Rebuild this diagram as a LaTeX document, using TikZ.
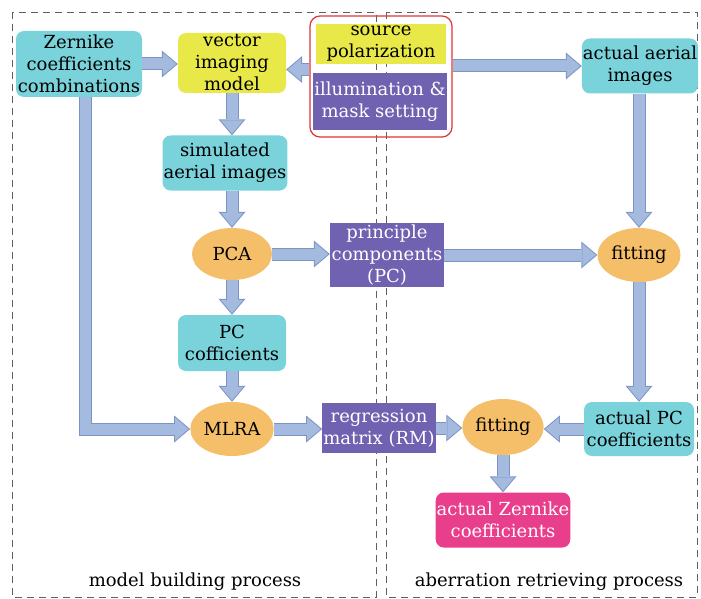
\documentclass[tikz,border=0pt]{standalone}
\usepackage{fontspec}
\setmainfont{DejaVu Serif}
\usetikzlibrary{arrows.meta, positioning, shapes.geometric}
\definecolor{mycyan}{RGB}{122,210,218}
\definecolor{myyellow}{RGB}{232,232,72}
\definecolor{mypurple}{RGB}{112,98,176}
\definecolor{myorange}{RGB}{245,190,105}
\definecolor{mypink}{RGB}{232,62,140}
\definecolor{myarrow}{RGB}{164,186,222}
\definecolor{myarrowline}{RGB}{124,148,196}
\definecolor{myred}{RGB}{222,52,52}
\definecolor{mydash}{RGB}{96,96,96}
\newcommand{\flowpath}[1]{\draw[flowout] #1; \draw[flowin] #1;}

\begin{document}
\begin{tikzpicture}[x=1pt,y=-1pt,
    every node/.style={font=\fontsize{18}{22}\selectfont,align=center,inner sep=1pt},
    cbox/.style={fill=mycyan,rounded corners=8pt},
    ybox/.style={fill=myyellow},
    pbox/.style={fill=mypurple,text=white},
    oval/.style={ellipse,fill=myorange},
    flowout/.style={line width=13pt,draw=myarrowline,-{Triangle[length=16pt,width=27pt,line width=0pt]}},
    flowin/.style={line width=11pt,draw=myarrow,shorten >=1.55pt,-{Triangle[length=13.45pt,width=22.7pt,line width=0pt]}},
    dashbox/.style={draw=mydash,line width=0.9pt,dash pattern=on 7pt off 5pt}]
    \useasboundingbox (0,0) rectangle (701,599);
    \draw[dashbox] (12,12) rectangle (376,597);
    \draw[dashbox] (386,12) rectangle (697,597);
    % model building side
    \node[cbox,minimum width=126pt,minimum height=66pt] (zern) at (79,64) {Zernike\\coefficients\\combinations};
    \node[cbox,fill=myyellow,minimum width=108pt,minimum height=60pt] (vim) at (232,63) {vector\\imaging\\model};
    \node[cbox,minimum width=122pt,minimum height=55pt] (simaer) at (225,163) {simulated\\aerial images};
    \node[oval,minimum width=80pt,minimum height=52pt] (pca) at (232,254) {PCA};
    \node[cbox,minimum width=108pt,minimum height=56pt] (pccof) at (232,343) {PC\\cofficients};
    \node[oval,minimum width=80pt,minimum height=54pt] (mlra) at (232,429) {MLRA};
    % shared settings
    \node[ybox,minimum width=130pt,minimum height=40pt] (srcpol) at (381,44) {source\\polarization};
    \node[pbox,minimum width=134pt,minimum height=57pt] (illum) at (380,102) {illumination \&\\mask setting};
    \node[draw=myred,line width=1.2pt,rounded corners=10pt,minimum width=142pt,minimum height=121pt] (frame) at (381,76.5) {};
    \node[pbox,minimum width=114pt,minimum height=64pt] (pcomp) at (387,255) {principle\\components\\(PC)};
    \node[pbox,minimum width=112pt,minimum height=50pt] (regm) at (379,428) {regression\\matrix (RM)};
    % aberration retrieving side
    \node[cbox,minimum width=114pt,minimum height=55pt] (actaer) at (640,66) {actual aerial\\images};
    \node[oval,minimum width=83pt,minimum height=54pt] (fita) at (639,255) {fitting};
    \node[cbox,minimum width=110pt,minimum height=54pt] (actpc) at (639,429) {actual PC\\coefficients};
    \node[oval,minimum width=80pt,minimum height=56pt] (fitb) at (503,427) {fitting};
    \node[cbox,fill=mypink,text=white,minimum width=130pt,minimum height=55pt] (actzer) at (503,520) {actual Zernike\\coefficients};
    \node (lbuild) at (195,582) {model building process};
    \node (lretr) at (549,582) {aberration retrieving process};
    % arrows
    \flowpath{(zern.east) -- (zern.east -| vim.west)}
    \flowpath{([yshift=7pt]frame.west) -- ([yshift=7pt]frame.west -| vim.east)}
    \flowpath{(frame.east |- actaer.west) -- (actaer.west)}
    \flowpath{(vim.south) -- (vim.south |- simaer.north)}
    \flowpath{(simaer.south -| pca.north) -- (pca.north)}
    \flowpath{(pca.east) -- (pca.east -| pcomp.west)}
    \flowpath{(pcomp.east) -- (pcomp.east -| fita.west)}
    \flowpath{(actaer.south -| fita.north) -- (fita.north)}
    \flowpath{(pca.south) -- (pca.south |- pccof.north)}
    \flowpath{(pccof.south) -- (pccof.south |- mlra.north)}
    \flowpath{([xshift=6pt]zern.south) |- (mlra.west)}
    \flowpath{(mlra.east) -- (mlra.east -| regm.west)}
    \flowpath{(regm.east) -- (regm.east -| fitb.west)}
    \flowpath{(fita.south) -- (fita.south |- actpc.north)}
    \flowpath{(actpc.west) -- (actpc.west -| fitb.east)}
    \flowpath{(fitb.south) -- (fitb.south |- actzer.north)}
\end{tikzpicture}
\end{document}
